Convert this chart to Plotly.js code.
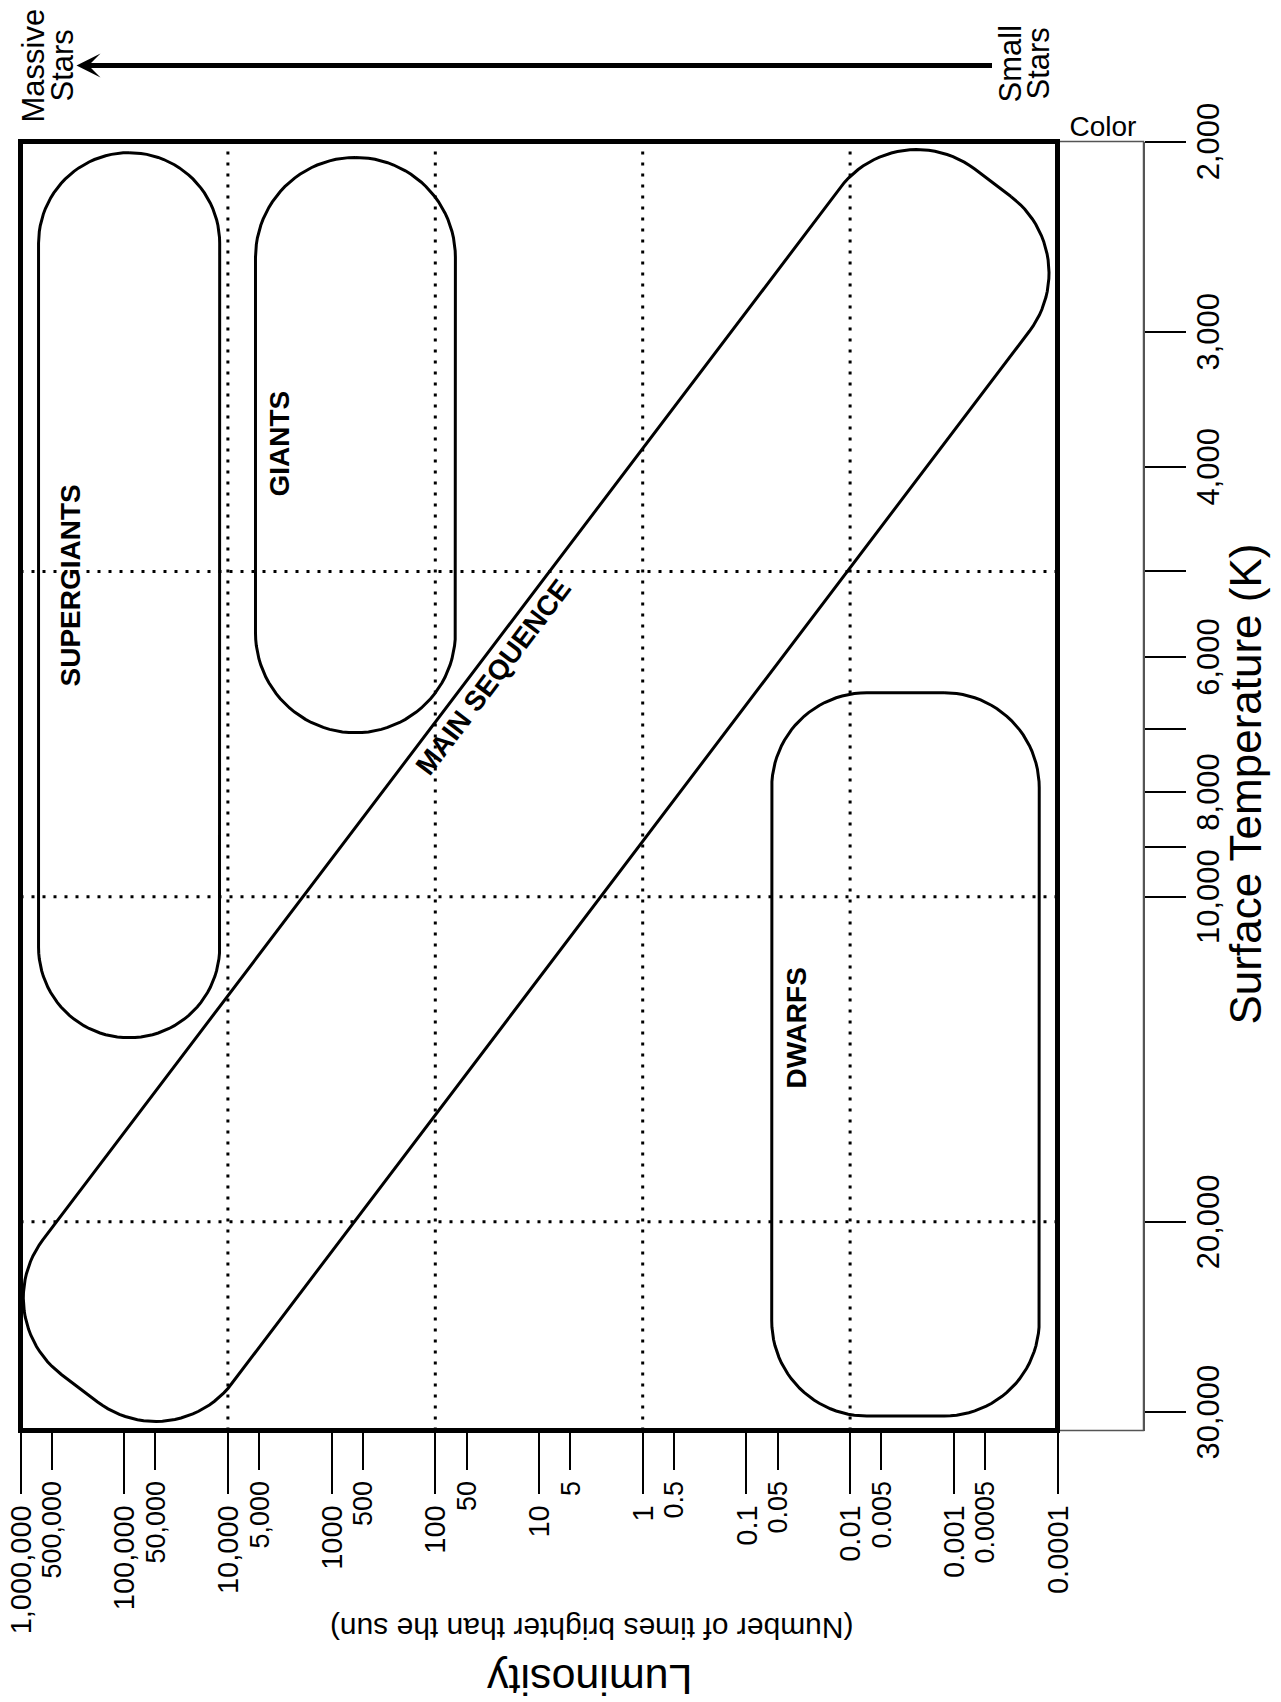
<!DOCTYPE html>
<html><head><meta charset="utf-8">
<script src="https://cdn.plot.ly/plotly-3.0.1.min.js"></script>
<style>
html,body{margin:0;padding:0;background:#fff;overflow:hidden;width:1281px;height:1702px;}
#wrap{position:absolute;left:-210.5px;top:210.5px;width:1702px;height:1281px;transform:rotate(-90deg);transform-origin:50% 50%;}
</style></head><body>
<div id="wrap"></div>
<script>
// ---------------- data ----------------
const lumTickValues = [1e6, 1e5, 1e4, 1e3, 1e2, 1e1, 1, 0.1, 0.01, 0.001, 0.0001];
const lumTickLabels = ['1,000,000', '100,000', '10,000', '1000', '100', '10', '1', '0.1', '0.01', '0.001', '0.0001'];
const lumHalfTickValues = [5e5, 5e4, 5e3, 500, 50, 5, 0.5, 0.05, 0.005, 0.0005];
const lumHalfTickLabels = ['500,000', '50,000', '5,000', '500', '50', '5', '0.5', '0.05', '0.005', '0.0005'];
const tempTickValues = [30000, 20000, 10000, 9000, 8000, 7000, 6000, 5000, 4000, 3000, 2000];
const tempTickLabels = ['30,000', '20,000', '10,000', '', '8,000', '', '6,000', '', '4,000', '3,000', '2,000'];
const lumGridValues = [1e4, 100, 1, 0.01];
const tempGridValues = [20000, 10000, 5000];
const lumFrame = [0.0001, 1e6];
const tempFrame = [31200, 2000];

// star groups drawn as rounded boxes (temperature K, luminosity in suns)
const boxNames = ['SUPERGIANTS', 'GIANTS', 'DWARFS'];
const boxTempLow = [2048, 2069, 6475];
const boxTempHigh = [13510, 7052, 30250];
const boxLumLow = [1.2e4, 64, 1.5e-4];
const boxLumHigh = [6.7e5, 5420, 0.057];

// main sequence band, hot/bright end -> cool/dim end
const mainSeqTemp = [28510, 2184];
const mainSeqLum = [2.7e5, 4.2e-4];

// group labels
const labelNames = ['SUPERGIANTS', 'GIANTS', 'DWARFS', 'MAIN SEQUENCE'];
const labelTemp = [5153, 3808, 13220, 6270];
const labelLum = [3.3e5, 3250, 0.033, 27.5];

// ---------------- layout / style ----------------
const FONT = 'Liberation Sans, Arial, Helvetica, sans-serif';
const W = 1702, H = 1281;
const M = {l: 272, r: 141, t: 20, b: 138};
const PW = W - M.l - M.r, PH = H - M.t - M.b;
const xR = [Math.log10(tempFrame[0]), Math.log10(tempFrame[1])];
const yR = [Math.log10(lumFrame[0]) - 0.8293, Math.log10(lumFrame[1])];
const boxRadius = [1e9, 1e9, 95];
const mainSeqHalfWidth = 118.75, mainSeqRadius = 96;

const X = T => M.l + (xR[0] - Math.log10(T)) / (xR[0] - xR[1]) * PW;
const Y = L => M.t + (yR[1] - Math.log10(L)) / (yR[1] - yR[0]) * PH;
const Tinv = px => Math.pow(10, xR[0] - (px - M.l) / PW * (xR[0] - xR[1]));
const Linv = py => Math.pow(10, yR[1] - (py - M.t) / PH * (yR[1] - yR[0]));
const yPaper = L => (Math.log10(L) - yR[0]) / (yR[1] - yR[0]);

function roundedBox(cx, cy, ux, uy, a, b, r, n) {
  const vx = -uy, vy = ux;
  r = Math.min(r, a, b);
  const pts = [];
  const corners = [[a - r, b - r, 0], [-(a - r), b - r, 90], [-(a - r), -(b - r), 180], [a - r, -(b - r), 270]];
  for (const [s0, w0, start] of corners) {
    for (let i = 0; i <= n; i++) {
      const ang = (start + 90 * i / n) * Math.PI / 180;
      const s = s0 + r * Math.cos(ang), w = w0 + r * Math.sin(ang);
      pts.push([cx + s * ux + w * vx, cy + s * uy + w * vy]);
    }
  }
  pts.push(pts[0]);
  return {x: pts.map(p => Tinv(p[0])), y: pts.map(p => Linv(p[1]))};
}

const traces = [];
const dotLine = {color: '#000', width: 3, dash: '3px,8px'};
lumGridValues.forEach(L => traces.push({type: 'scatter', mode: 'lines', x: [tempFrame[0], tempFrame[1]], y: [L, L], line: dotLine, hoverinfo: 'skip', showlegend: false}));
tempGridValues.forEach(T => traces.push({type: 'scatter', mode: 'lines', x: [T, T], y: [lumFrame[0], lumFrame[1]], line: dotLine, hoverinfo: 'skip', showlegend: false}));

const outline = {color: '#000', width: 3};
boxNames.forEach((nm, i) => {
  const x0 = X(boxTempHigh[i]), x1 = X(boxTempLow[i]);
  const y0 = Y(boxLumHigh[i]), y1 = Y(boxLumLow[i]);
  const g = roundedBox((x0 + x1) / 2, (y0 + y1) / 2, 1, 0, Math.abs(x1 - x0) / 2, Math.abs(y1 - y0) / 2, boxRadius[i], 24);
  traces.push({type: 'scatter', mode: 'lines', name: nm, x: g.x, y: g.y, line: outline, hoverinfo: 'skip', showlegend: false});
});

const p1 = [X(mainSeqTemp[0]), Y(mainSeqLum[0])], p2 = [X(mainSeqTemp[1]), Y(mainSeqLum[1])];
const len = Math.hypot(p2[0] - p1[0], p2[1] - p1[1]);
const dirx = (p2[0] - p1[0]) / len, diry = (p2[1] - p1[1]) / len;
const ms = roundedBox((p1[0] + p2[0]) / 2, (p1[1] + p2[1]) / 2, dirx, diry, len / 2, mainSeqHalfWidth, mainSeqRadius, 24);
traces.push({type: 'scatter', mode: 'lines', name: 'MAIN SEQUENCE', x: ms.x, y: ms.y, yaxis: 'y2', line: outline, hoverinfo: 'skip', showlegend: false});
const msAngle = Math.atan2(diry, dirx) * 180 / Math.PI;

const annotations = labelNames.map((nm, i) => ({
  xref: 'x', yref: 'y', x: Math.log10(labelTemp[i]), y: Math.log10(labelLum[i]),
  text: '<b>' + nm + '</b>', showarrow: false, xanchor: 'center', yanchor: 'middle',
  textangle: nm === 'MAIN SEQUENCE' ? msAngle : 0,
  font: {family: FONT, size: 28, color: '#000'}
}));
const px2paperX = ux => (ux - M.l) / PW;
const px2paperY = uy => (M.t + PH - uy) / PH;
function txt(text, ux, uy, size, angle) {
  return {xref: 'paper', yref: 'paper', x: px2paperX(ux), y: px2paperY(uy), text: text, showarrow: false,
    xanchor: 'center', yanchor: 'middle', textangle: angle || 0, font: {family: FONT, size: size, color: '#000'}};
}
annotations.push(txt('Surface Temperature (K)', M.l + PW / 2 + 2, 1244, 44, 0));
annotations.push(txt('Luminosity', 23, 589, 43, -90));
annotations.push(txt('(Number of times brighter than the sun)', 74, 591, 30, -90));
annotations.push(txt('Color', 1577, 1102, 28, 90));
annotations.push(txt('Massive', 1637, 32.5, 31, 0));
annotations.push(txt('Stars', 1637, 61.5, 31, 0));
annotations.push(txt('Small', 1639, 1009, 31, 0));
annotations.push(txt('Stars', 1639, 1037.5, 31, 0));
annotations.push({xref: 'paper', yref: 'paper', x: px2paperX(1637), y: px2paperY(76), text: '', showarrow: true,
  axref: 'pixel', ayref: 'pixel', ax: 0, ay: 993 - 76, arrowhead: 3, arrowsize: 0.8, arrowwidth: 5, arrowcolor: '#000', standoff: 0, startstandoff: 0});

const shapes = [
  {type: 'rect', xref: 'paper', yref: 'paper', x0: 0, x1: 1, y0: 0, y1: yPaper(lumFrame[0]), line: {color: '#555', width: 1.5}, fillcolor: 'rgba(0,0,0,0)', layer: 'above'},
  {type: 'rect', xref: 'paper', yref: 'paper', x0: 0, x1: 1, y0: yPaper(lumFrame[0]), y1: yPaper(lumFrame[1]), line: {color: '#000', width: 5}, fillcolor: 'rgba(0,0,0,0)', layer: 'above'}
];

const layout = {
  width: W, height: H, margin: M, paper_bgcolor: '#fff', plot_bgcolor: '#fff', showlegend: false,
  font: {family: FONT, color: '#000'},
  xaxis: {type: 'log', range: xR, autorange: false, tickmode: 'array', tickvals: tempTickValues, ticktext: tempTickLabels,
    ticks: 'outside', ticklen: 41, tickwidth: 2, tickcolor: '#000', showline: true, linewidth: 1.5, linecolor: '#555',
    showgrid: false, zeroline: false, tickfont: {family: FONT, size: 31, color: '#000'}, ticklabelstandoff: -4, fixedrange: true},
  yaxis: {type: 'log', range: yR, autorange: false, tickmode: 'array', tickvals: lumTickValues, ticktext: lumTickLabels,
    ticks: 'outside', ticklen: 62, tickwidth: 2, tickcolor: '#000', showline: false, showgrid: false, zeroline: false,
    tickfont: {family: FONT, size: 29, color: '#000'}, ticklabelstandoff: 6, fixedrange: true},
  yaxis2: {type: 'log', range: yR, autorange: false, overlaying: 'y', side: 'left', anchor: 'x', tickmode: 'array',
    tickvals: lumHalfTickValues, ticktext: lumHalfTickLabels, ticks: 'outside', ticklen: 38, tickwidth: 2, tickcolor: '#000',
    showline: false, showgrid: false, zeroline: false, tickfont: {family: FONT, size: 27, color: '#000'}, ticklabelstandoff: 6, fixedrange: true},
  shapes: shapes,
  annotations: annotations
};
Plotly.newPlot('wrap', traces, layout, {staticPlot: true, displayModeBar: false, responsive: false});
</script>
</body></html>
